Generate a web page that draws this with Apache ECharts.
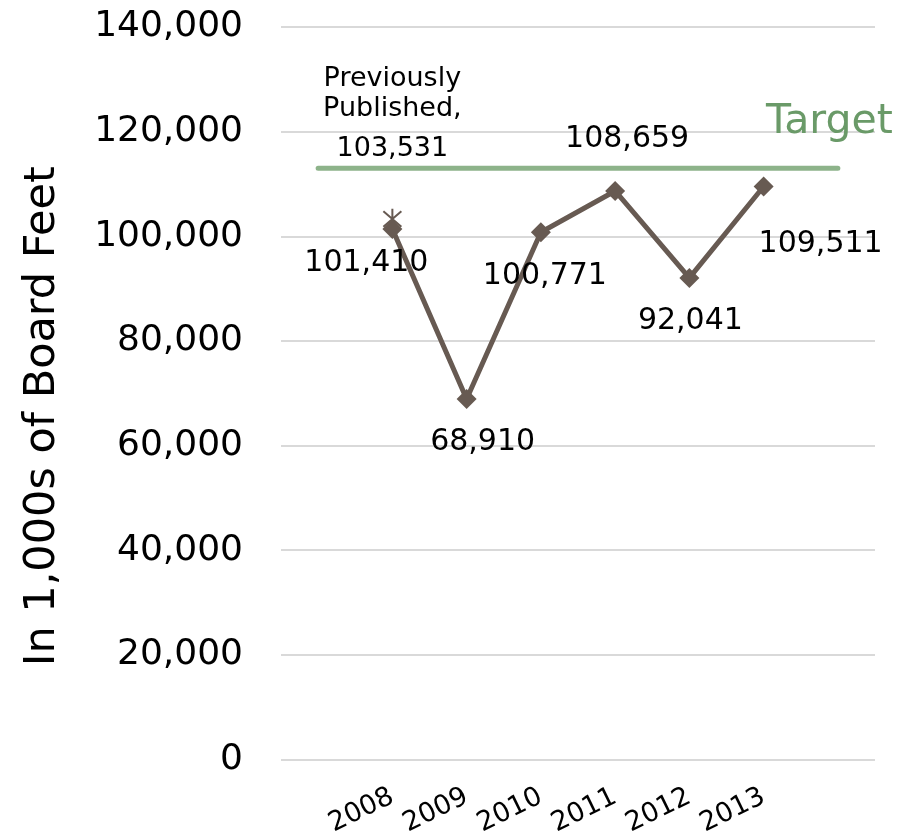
<!DOCTYPE html>
<html>
<head>
<meta charset="utf-8">
<script src="https://cdn.jsdelivr.net/npm/echarts@6/dist/echarts.min.js"></script>
<style>
  html, body { margin: 0; padding: 0; background: #fff; }
  #main { width: 914px; height: 839px; }
</style>
</head>
<body>
<div id="main"></div>
<script>
// 数据 (首尾为空位，让目标线伸出两端)
const years = ['', '2008', '2009', '2010', '2011', '2012', '2013', ''];
const actual = [null, 101410, 68910, 100771, 108659, 92041, 109511, null];
const published = [null, 103531, null, null, null, null, null, null];
const target = [113000, 113000, 113000, 113000, 113000, 113000, 113000, 113000];
// 每个数据标签相对点的偏移
const labelOffsets = [null, [-26, 34], [16, 43], [4, 44], [12, -52], [1, 43], [57, 58], null];

const font = 'DejaVu Sans';
const chart = echarts.init(document.getElementById('main'));

const actualData = actual.map(function (v, i) {
    if (v === null) return null;
    return {
        value: v,
        label: { offset: labelOffsets[i] }
    };
});

option = {
    animation: false,
    grid: { left: 281, right: 39, top: 27, bottom: 77 },
    xAxis: {
        type: 'category',
        data: years,
        axisLine: { show: false },
        axisTick: { show: false },
        axisLabel: {
            interval: 0,
            rotate: 26,
            margin: 36,
            fontFamily: font,
            fontSize: 27,
            color: '#000'
        }
    },
    yAxis: {
        type: 'value',
        min: 0,
        max: 140000,
        interval: 20000,
        name: 'In 1,000s of Board Feet',
        nameLocation: 'middle',
        nameGap: 217,
        nameTextStyle: { fontFamily: font, fontSize: 43, color: '#000', padding: [0, 46, 0, 0] },
        axisLine: { show: false },
        axisTick: { show: false },
        axisLabel: {
            margin: 38,
            fontFamily: font,
            fontSize: 36,
            color: '#000',
            formatter: function (v) { return v.toLocaleString('en-US'); }
        },
        splitLine: { lineStyle: { color: '#d9d9d9', width: 2 } }
    },
    series: [
        {
            name: 'Target',
            type: 'line',
            data: target,
            symbol: 'none',
            lineStyle: { color: '#8db38a', width: 5, cap: 'round' },
            endLabel: {
                show: true,
                offset: [-80, -46],
                formatter: 'Target',
                fontFamily: font,
                fontSize: 41,
                color: '#6a9a68'
            },
            z: 1
        },
        {
            name: 'Previously Published',
            type: 'line',
            data: published,
            symbol: 'path://M-1,-1L1,1M1,-1L-1,1M0,-1.3L0,0',
            symbolSize: 18,
            itemStyle: { color: 'rgba(0,0,0,0)', borderColor: '#675a52', borderWidth: 2 },
            label: {
                show: true,
                position: 'top',
                distance: 34,
                formatter: '{a|Previously}\n{a|Published,}\n{b|103,531}',
                rich: {
                    a: { fontFamily: font, fontSize: 27, lineHeight: 30, color: '#000' },
                    b: { fontFamily: font, fontSize: 27, lineHeight: 50, color: '#000' }
                }
            },
            z: 2
        },
        {
            name: 'Actual',
            type: 'line',
            data: actualData,
            symbol: 'diamond',
            symbolSize: 20,
            lineStyle: { color: '#675a52', width: 5 },
            itemStyle: { color: '#675a52' },
            label: {
                show: true,
                position: 'inside',
                fontFamily: font,
                fontSize: 30,
                color: '#000',
                formatter: function (p) { return p.value.toLocaleString('en-US'); }
            },
            z: 3
        }
    ]
};

chart.setOption(option);
</script>
</body>
</html>
